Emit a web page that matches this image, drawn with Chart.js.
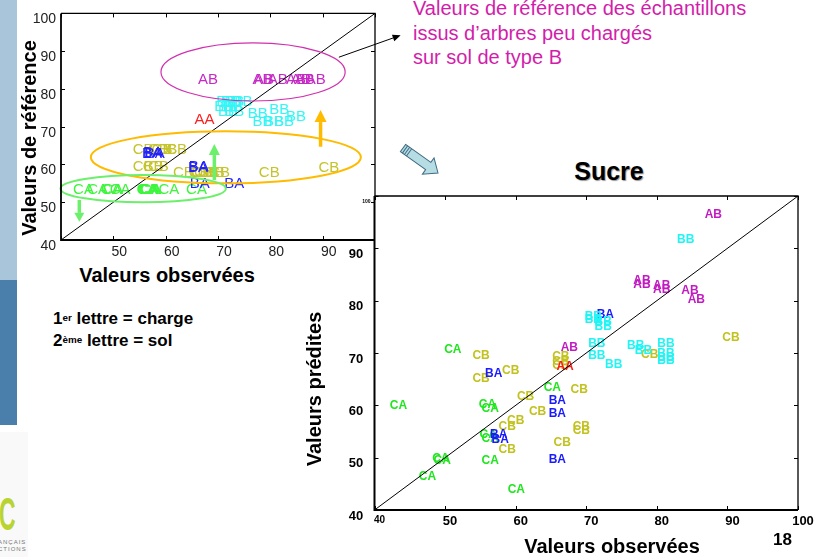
<!DOCTYPE html>
<html lang="fr">
<head>
<meta charset="utf-8">
<title>Sucre</title>
<script src="https://cdn.jsdelivr.net/npm/chart.js@4.4.1/dist/chart.umd.min.js"></script>
<style>
html,body{margin:0;padding:0;background:#fff;}
body{width:816px;height:557px;position:relative;overflow:hidden;font-family:"Liberation Sans",Arial,Helvetica,sans-serif;color:#000;}
.a{position:absolute;white-space:nowrap;}
canvas{position:absolute;}
sup{font-size:58%;vertical-align:top;position:relative;top:-1px;}
</style>
</head>
<body>
<div class="a" style="left:0;top:0;width:17px;height:280px;background:#a9c5da"></div>
<div class="a" style="left:0;top:280px;width:17px;height:145px;background:#4a7fab"></div>
<div class="a" style="left:0;top:432px;width:28px;height:125px;background:#f9f9f9"></div>
<div class="a" style="left:-1px;top:492px;font-size:46px;line-height:44px;font-weight:bold;color:#b9d431;transform:scaleX(0.5);transform-origin:0 0">C</div>
<div class="a" style="left:-2px;top:539px;font-size:6px;line-height:7px;letter-spacing:1px;color:#777">ANÇAIS<br>CTIONS</div>

<canvas id="refChart" width="410" height="262" style="left:0;top:0"></canvas>
<canvas id="sucreChart" width="486" height="371" style="left:330px;top:186px"></canvas>

<div class="a" style="left:413px;top:-4px;font-size:20px;line-height:24.5px;color:#d21eaa">Valeurs de référence des échantillons<br>issus d’arbres peu chargés<br>sur sol de type B</div>

<div class="a" style="left:-91px;top:128px;width:240px;height:20px;line-height:20px;text-align:center;font-size:20px;font-weight:bold;transform:rotate(-90deg)">Valeurs de référence</div>
<div class="a" style="left:67px;top:265px;width:200px;line-height:20px;text-align:center;font-size:20px;font-weight:bold">Valeurs observées</div>

<div class="a" style="left:194px;top:379px;width:240px;height:20px;line-height:20px;text-align:center;font-size:20px;font-weight:bold;transform:rotate(-90deg)">Valeurs prédites</div>
<div class="a" style="left:512px;top:536px;width:200px;line-height:20px;text-align:center;font-size:20px;font-weight:bold">Valeurs observées</div>

<div class="a" style="left:559px;top:159px;width:100px;line-height:25px;text-align:center;font-size:25px;font-weight:bold;text-shadow:1px 1px 1px #9a9a9a">Sucre</div>
<div class="a" style="left:773px;top:531px;line-height:17px;font-size:17px;font-weight:bold">18</div>

<div class="a" style="left:53px;top:308px;font-size:17px;line-height:21.7px;font-weight:bold">1<sup>er</sup> lettre = charge<br>2<sup>ème</sup> lettre = sol</div>

<svg class="a" style="left:390px;top:135px" width="60" height="50">
  <g transform="translate(13,13) rotate(35.5)">
    <polygon points="0,-4.5 31,-4.5 31,-10 43,0 31,10 31,4.5 0,4.5" fill="#b5dde3" stroke="#3f6a82" stroke-width="1"/>
    <line x1="2.5" y1="-4.5" x2="2.5" y2="4.5" stroke="#3f6a82" stroke-width="1"/>
    <line x1="5" y1="-4.5" x2="5" y2="4.5" stroke="#3f6a82" stroke-width="1"/>
    <line x1="7.5" y1="-4.5" x2="7.5" y2="4.5" stroke="#3f6a82" stroke-width="1"/>
  </g>
</svg>

<script>
// ---------- DATA ----------
const groups = ['CA', 'CB', 'BA', 'BB', 'AB', 'AA'];
const axisTicks = [40, 50, 60, 70, 80, 90, 100];

// Right chart "Sucre": observed (x) vs predicted (y)
const sucreObsCA  = [51.1, 43.4, 56.0, 56.4, 56.1, 56.4, 49.4, 49.6, 56.4, 47.5, 60.1, 65.2];
const sucrePredCA = [70.6, 60.0, 60.2, 59.4, 54.3, 53.6, 49.8, 49.5, 49.4, 46.3, 43.8, 63.4];
const sucreObsCB  = [55.1, 55.1, 59.3, 66.4, 66.4, 66.4, 69.0, 61.4, 63.1, 60.0, 58.8, 69.3, 69.3, 58.8, 66.6, 79.0, 90.5];
const sucrePredCB = [69.4, 65.1, 66.6, 69.2, 68.3, 67.5, 62.9, 61.6, 58.7, 57.1, 56.0, 56.0, 55.2, 51.5, 52.8, 69.6, 73.0];
const sucreObsBA  = [56.9, 65.9, 65.9, 57.6, 57.8, 65.9, 72.7];
const sucrePredBA = [66.1, 60.8, 58.4, 54.4, 53.5, 49.7, 77.3];
const sucreObsBB  = [84.1, 71.0, 71.0, 72.4, 72.4, 71.5, 71.5, 73.9, 77.0, 78.1, 81.3, 81.3, 81.3, 81.3];
const sucrePredBB = [91.7, 76.9, 76.3, 75.9, 75.1, 71.7, 69.4, 67.7, 71.4, 70.4, 71.7, 69.8, 69.1, 68.5];
const sucreObsAB  = [88.0, 77.9, 77.9, 80.7, 80.7, 84.7, 85.6, 67.6];
const sucrePredAB = [96.4, 83.9, 83.1, 82.9, 82.1, 82.0, 80.1, 71.0];
const sucreObsAA  = [67.0];
const sucrePredAA = [67.3];

// Left chart: observed (x) vs reference (y)
const refObsCA = [44.3, 47.0, 49.6, 49.9, 51.3, 56.4, 56.6, 56.8, 57.0, 57.2, 60.6, 65.9];
const refValCA = [53.4, 53.4, 53.4, 53.4, 53.4, 53.4, 53.4, 53.4, 53.4, 53.4, 53.4, 53.4];
const refObsCB = [55.7, 58.6, 59.3, 60.2, 62.1, 55.7, 57.6, 58.6, 63.4, 66.4, 66.9, 67.4, 68.1, 69.3, 70.3, 79.8, 91.2];
const refValCB = [63.8, 63.8, 63.8, 63.8, 63.8, 59.4, 59.4, 59.4, 57.9, 57.9, 57.9, 57.9, 57.9, 57.9, 57.9, 57.8, 59.1];
const refObsBA = [57.4, 57.9, 57.6, 66.2, 66.3, 66.5, 73.1];
const refValBA = [62.9, 62.9, 63.1, 59.0, 59.3, 54.8, 54.8];
const refObsBB = [71.6, 72.5, 73.1, 74.7, 71.2, 72.8, 71.9, 73.1, 77.6, 81.7, 84.9, 78.5, 80.7, 82.6];
const refValBB = [76.6, 76.6, 76.6, 76.6, 75.3, 75.3, 73.9, 73.9, 73.5, 74.4, 72.5, 71.3, 71.3, 71.3];
const refObsAB = [68.1, 78.5, 78.8, 81.4, 84.9, 85.8, 86.6, 88.7];
const refValAB = [82.3, 82.3, 82.3, 82.3, 82.3, 82.3, 82.3, 82.3];
const refObsAA = [67.4];
const refValAA = [71.7];

// ---------- STYLES ----------
const FONT = '"Liberation Sans", Arial, Helvetica, sans-serif';
const sucreColors = {CA:'#1fe61f', CB:'#c2c21e', BA:'#1a1aff', BB:'#22f4f4', AB:'#c21bc2', AA:'#ff1a1a'};
const refColors   = {CA:'#3cf53c', CB:'#c4c42a', BA:'#2323ff', BB:'#33f6f6', AB:'#c52ac5', AA:'#ff2020'};

function zip(xs, ys) { return xs.map((v, i) => ({x: v, y: ys[i]})); }

const sucreSeries = {
  CA: zip(sucreObsCA, sucrePredCA), CB: zip(sucreObsCB, sucrePredCB), BA: zip(sucreObsBA, sucrePredBA),
  BB: zip(sucreObsBB, sucrePredBB), AB: zip(sucreObsAB, sucrePredAB), AA: zip(sucreObsAA, sucrePredAA)
};
const refSeries = {
  CA: zip(refObsCA, refValCA), CB: zip(refObsCB, refValCB), BA: zip(refObsBA, refValBA),
  BB: zip(refObsBB, refValBB), AB: zip(refObsAB, refValAB), AA: zip(refObsAA, refValAA)
};

function makeDatasets(series, colors) {
  const ds = groups.map(g => ({
    label: g, data: series[g], markText: g, markColor: colors[g],
    pointRadius: 0, pointHoverRadius: 0, showLine: false
  }));
  ds.push({label: 'y = x', data: [{x: 40, y: 40}, {x: 100, y: 100}], showLine: true,
           borderColor: '#000', borderWidth: 1, pointRadius: 0, fill: false});
  return ds;
}

// ---------- PLUGINS ----------
const textMarks = {
  id: 'textMarks',
  beforeDatasetsDraw(chart, args, opts) {
    const ctx = chart.ctx;
    ctx.save();
    ctx.font = opts.font;
    ctx.textAlign = 'center';
    ctx.textBaseline = 'middle';
    chart.data.datasets.forEach((ds, i) => {
      if (!ds.markText) return;
      ctx.fillStyle = ds.markColor;
      chart.getDatasetMeta(i).data.forEach(el => ctx.fillText(ds.markText, el.x, el.y));
    });
    ctx.restore();
  }
};

const frame = {
  id: 'frame',
  beforeDraw(chart, args, opts) {
    if (!opts.fillArea) return;
    const a = chart.chartArea, ctx = chart.ctx;
    ctx.save(); ctx.fillStyle = '#fff';
    ctx.fillRect(a.left, a.top, a.right - a.left, a.bottom - a.top);
    ctx.restore();
  },
  afterDraw(chart, args, opts) {
    const {ctx, chartArea: a, scales: {x, y}} = chart;
    const L = opts.tick;
    ctx.save();
    ctx.strokeStyle = '#000';
    ctx.lineWidth = 1;
    ctx.beginPath();
    x.ticks.forEach(t => {
      const p = Math.round(x.getPixelForValue(t.value)) + 0.5;
      ctx.moveTo(p, a.bottom); ctx.lineTo(p, a.bottom - L);
      ctx.moveTo(p, a.top); ctx.lineTo(p, a.top + L);
    });
    y.ticks.forEach(t => {
      const p = Math.round(y.getPixelForValue(t.value)) + 0.5;
      ctx.moveTo(a.left, p); ctx.lineTo(a.left + L, p);
      ctx.moveTo(a.right, p); ctx.lineTo(a.right - L, p);
    });
    ctx.stroke();
    ctx.lineWidth = opts.thin;
    ctx.beginPath();
    ctx.moveTo(a.left, a.top); ctx.lineTo(a.right, a.top); ctx.lineTo(a.right, a.bottom);
    ctx.stroke();
    ctx.lineWidth = opts.thick;
    ctx.beginPath();
    ctx.moveTo(a.left, a.top); ctx.lineTo(a.left, a.bottom); ctx.lineTo(a.right, a.bottom);
    ctx.stroke();
    ctx.restore();
  }
};

const annot = {
  id: 'annot',
  afterDatasetsDraw(chart, args, opts) {
    const {ctx, scales: {x, y}} = chart;
    ctx.save();
    (opts.ellipses || []).forEach(e => {
      const cx = x.getPixelForValue(e.cx), cy = y.getPixelForValue(e.cy);
      const rx = Math.abs(x.getPixelForValue(e.cx + e.rx) - cx);
      const ry = Math.abs(y.getPixelForValue(e.cy + e.ry) - cy);
      ctx.beginPath();
      ctx.ellipse(cx, cy, rx, ry, 0, 0, Math.PI * 2);
      ctx.strokeStyle = e.color; ctx.lineWidth = e.width;
      ctx.stroke();
    });
    (opts.arrows || []).forEach(r => {
      const x0 = x.getPixelForValue(r.x0), y0 = y.getPixelForValue(r.y0);
      const x1 = x.getPixelForValue(r.x1), y1 = y.getPixelForValue(r.y1);
      const ang = Math.atan2(y1 - y0, x1 - x0);
      const bx = x1 - r.head * Math.cos(ang), by = y1 - r.head * Math.sin(ang);
      ctx.strokeStyle = r.color; ctx.fillStyle = r.color; ctx.lineWidth = r.width;
      ctx.beginPath(); ctx.moveTo(x0, y0); ctx.lineTo(bx, by); ctx.stroke();
      ctx.beginPath();
      ctx.moveTo(x1, y1);
      ctx.lineTo(bx + r.headW / 2 * Math.sin(ang), by - r.headW / 2 * Math.cos(ang));
      ctx.lineTo(bx - r.headW / 2 * Math.sin(ang), by + r.headW / 2 * Math.cos(ang));
      ctx.closePath(); ctx.fill();
    });
    ctx.restore();
  }
};

function fixedTicks(scale) { scale.ticks = axisTicks.map(v => ({value: v})); }

// ---------- LEFT CHART (reference) ----------
new Chart(document.getElementById('refChart'), {
  type: 'scatter',
  data: {datasets: makeDatasets(refSeries, refColors)},
  plugins: [textMarks, frame, annot],
  options: {
    responsive: false, animation: false, devicePixelRatio: 1, events: [],
    layout: {padding: {top: 13, right: 35, left: 0, bottom: 0}},
    plugins: {
      legend: {display: false}, tooltip: {enabled: false},
      textMarks: {font: '15px ' + FONT},
      frame: {tick: 4, thin: 1.3, thick: 1.8},
      annot: {
        ellipses: [
          {cx: 76.7, cy: 84.5, rx: 17.6, ry: 7.7, color: '#d22fae', width: 1.2},
          {cx: 71.5, cy: 61.9, rx: 25.8, ry: 6.9, color: '#ffbb00', width: 2},
          {cx: 55.7, cy: 53.6, rx: 15.8, ry: 3.6, color: '#6cf06c', width: 2}
        ],
        arrows: [
          {x0: 43.5, y0: 50.6, x1: 43.5, y1: 44.8, color: '#6cf06c', width: 3.5, head: 9, headW: 10},
          {x0: 69.3, y0: 55.9, x1: 69.3, y1: 65.4, color: '#6cf06c', width: 3.5, head: 11, headW: 11},
          {x0: 89.6, y0: 64.7, x1: 89.6, y1: 74.4, color: '#ffbb00', width: 3.5, head: 12, headW: 12},
          {x0: 93.1, y0: 88.4, x1: 104.9, y1: 94.2, color: '#000', width: 1, head: 8, headW: 7}
        ]
      }
    },
    scales: {
      x: {
        type: 'linear', min: 40, max: 100,
        afterBuildTicks: fixedTicks,
        afterFit(s) { s.height = 22; },
        grid: {display: false, drawTicks: false}, border: {display: false},
        ticks: {padding: 4, labelOffset: 6, color: '#222', font: {family: FONT, size: 14},
                maxRotation: 0, autoSkip: false,
                callback: v => (v === 40 || v === 100) ? '' : String(v)}
      },
      y: {
        type: 'linear', min: 40, max: 100,
        afterBuildTicks: fixedTicks,
        afterFit(s) { s.width = 61; },
        grid: {display: false, drawTicks: false}, border: {display: false},
        ticks: {padding: 5, labelOffset: 6, color: '#222', font: {family: FONT, size: 14},
                autoSkip: false, callback: v => String(v)}
      }
    }
  }
});

// ---------- RIGHT CHART (Sucre) ----------
new Chart(document.getElementById('sucreChart'), {
  type: 'scatter',
  data: {datasets: makeDatasets(sucreSeries, sucreColors)},
  plugins: [textMarks, frame],
  options: {
    responsive: false, animation: false, devicePixelRatio: 1, events: [],
    layout: {padding: {top: 10, right: 18, left: 0, bottom: 0}},
    plugins: {
      legend: {display: false}, tooltip: {enabled: false},
      textMarks: {font: 'bold 12px ' + FONT},
      frame: {tick: 4, thin: 1.3, thick: 2, fillArea: true}
    },
    scales: {
      x: {
        type: 'linear', min: 40, max: 100,
        afterBuildTicks: fixedTicks,
        afterFit(s) { s.height = 47; },
        grid: {display: false, drawTicks: false}, border: {display: false},
        ticks: {padding: 4, labelOffset: 5, color: '#000', maxRotation: 0, autoSkip: false,
                font: c => ({family: FONT, weight: 'bold', size: (c.tick && c.tick.value === 40) ? 10 : 13}),
                callback: v => String(v)}
      },
      y: {
        type: 'linear', min: 40, max: 100,
        afterBuildTicks: fixedTicks,
        afterFit(s) { s.width = 44.5; },
        grid: {display: false, drawTicks: false}, border: {display: false},
        ticks: {padding: 4, labelOffset: 6, color: '#000', autoSkip: false,
                font: c => ({family: FONT, weight: 'bold', size: (c.tick && c.tick.value === 100) ? 5 : 13}),
                callback: v => (v === 100 ? '100' : String(v) + '\u2007')}
      }
    }
  }
});
</script>
</body>
</html>
